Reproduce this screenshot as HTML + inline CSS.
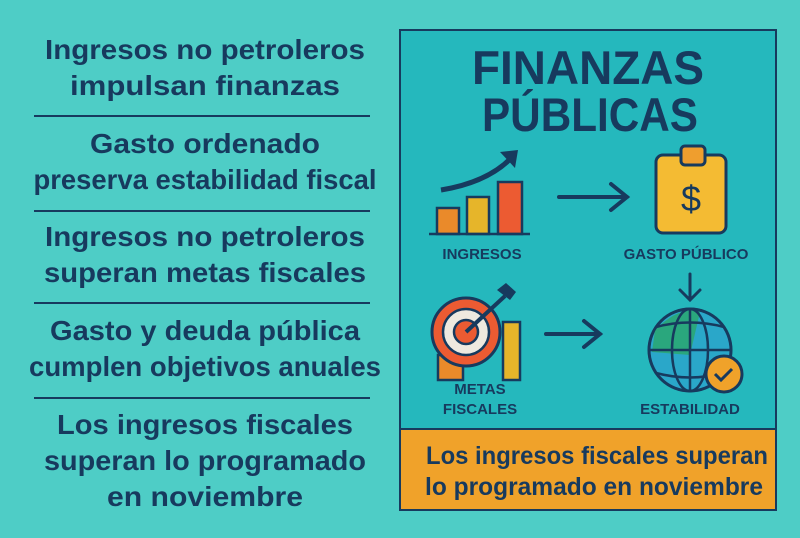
<!DOCTYPE html>
<html><head><meta charset="utf-8"><style>
body{margin:0;width:800px;height:533px;overflow:hidden;background:#4ecdc6;font-family:"Liberation Sans",sans-serif}
</style></head><body>
<svg width="800" height="533" xmlns="http://www.w3.org/2000/svg" font-family="Liberation Sans, sans-serif">
<rect width="800" height="533" fill="#4ecdc6"/>
<g fill="#173a5e" font-size="28" text-anchor="middle" font-weight="bold">
<text x="205" y="59" textLength="320" lengthAdjust="spacingAndGlyphs">Ingresos no petroleros</text>
<text x="205" y="95" textLength="270" lengthAdjust="spacingAndGlyphs">impulsan finanzas</text>
<text x="205" y="153" textLength="230" lengthAdjust="spacingAndGlyphs">Gasto ordenado</text>
<text x="205" y="189" textLength="343" lengthAdjust="spacingAndGlyphs">preserva estabilidad fiscal</text>
<text x="205" y="246" textLength="320" lengthAdjust="spacingAndGlyphs">Ingresos no petroleros</text>
<text x="205" y="282" textLength="322" lengthAdjust="spacingAndGlyphs">superan metas fiscales</text>
<text x="205" y="340" textLength="310" lengthAdjust="spacingAndGlyphs">Gasto y deuda pública</text>
<text x="205" y="376" textLength="352" lengthAdjust="spacingAndGlyphs">cumplen objetivos anuales</text>
<text x="205" y="434" textLength="296" lengthAdjust="spacingAndGlyphs">Los ingresos fiscales</text>
<text x="205" y="470" textLength="322" lengthAdjust="spacingAndGlyphs">superan lo programado</text>
<text x="205" y="506" textLength="196" lengthAdjust="spacingAndGlyphs">en noviembre</text>
</g>
<g stroke="#173a5e" stroke-width="2">
<line x1="34" y1="116" x2="370" y2="116"/><line x1="34" y1="211" x2="370" y2="211"/>
<line x1="34" y1="303" x2="370" y2="303"/><line x1="34" y1="398" x2="370" y2="398"/>
</g>
<rect x="400" y="30" width="376" height="400" fill="#25b8bd" stroke="#173a5e" stroke-width="2"/>
<rect x="400" y="429" width="376" height="81" fill="#f0a22a" stroke="#173a5e" stroke-width="2"/>
<g fill="#173a5e" font-weight="bold" text-anchor="middle">
<text x="588" y="84" font-size="47" textLength="232" lengthAdjust="spacingAndGlyphs">FINANZAS</text>
<text x="590" y="131" font-size="47" textLength="216" lengthAdjust="spacingAndGlyphs">PÚBLICAS</text>
<text x="482" y="259" font-size="15">INGRESOS</text>
<text x="686" y="259" font-size="15">GASTO PÚBLICO</text>
<text x="480" y="394" font-size="15">METAS</text>
<text x="480" y="414" font-size="15">FISCALES</text>
<text x="690" y="414" font-size="15">ESTABILIDAD</text>
</g>
<g fill="#173a5e" font-size="25" font-weight="bold">
<text x="426" y="464" textLength="342" lengthAdjust="spacingAndGlyphs">Los ingresos fiscales superan</text>
<text x="425" y="495" textLength="338" lengthAdjust="spacingAndGlyphs">lo programado en noviembre</text>
</g>
<g stroke="#173a5e" stroke-width="2.5">
<rect x="437" y="208" width="22" height="26" fill="#ea8a2a"/>
<rect x="467" y="197" width="22" height="37" fill="#e6b52a"/>
<rect x="498" y="182" width="24" height="52" fill="#ec5b32"/>
<line x1="429" y1="234" x2="530" y2="234"/>
<path d="M441 190 Q490 182 514 155" fill="none" stroke-width="5"/>
</g>
<path d="M500 152 L518 150 L515 168 Z" fill="#173a5e"/>
<g stroke="#173a5e" stroke-width="4" fill="none" stroke-linecap="round">
<path d="M559 197 L627 197 M611 184 L627 197 L611 210"/>
<path d="M546 334 L600 334 M584 321 L600 334 L584 347"/>
<path d="M690 274 L690 300 M680 290 L690 300 L700 290" stroke-width="3"/>
</g>
<rect x="656" y="155" width="70" height="78" rx="7" fill="#f4bb33" stroke="#173a5e" stroke-width="3"/>
<rect x="681" y="146" width="24" height="19" rx="4" fill="#ef9e2e" stroke="#173a5e" stroke-width="3"/>
<text x="691" y="211" font-size="36" text-anchor="middle" fill="#173a5e">$</text>
<rect x="438" y="355" width="25" height="25" fill="#ea8a2a" stroke="#173a5e" stroke-width="2.5"/>
<rect x="503" y="322" width="17" height="58" fill="#e6b52a" stroke="#173a5e" stroke-width="2.5"/>
<circle cx="466" cy="332" r="34" fill="#ec5b32" stroke="#173a5e" stroke-width="3"/>
<circle cx="466" cy="332" r="23" fill="#eee9df" stroke="#173a5e" stroke-width="2.5"/>
<circle cx="466" cy="332" r="12" fill="#ec5b32" stroke="#173a5e" stroke-width="2.5"/>
<line x1="466" y1="332" x2="505" y2="296" stroke="#173a5e" stroke-width="4"/>
<path d="M497 290 L506 283 L516 292 L510 300 Z" fill="#173a5e"/>
<circle cx="690" cy="350" r="41" fill="#2aa7c9" stroke="#173a5e" stroke-width="3"/>
<path d="M655 330 Q680 305 700 312 L690 355 L652 352 Z" fill="#2aa86a" opacity="0.8"/>
<g stroke="#173a5e" stroke-width="2.5" fill="none">
<circle cx="690" cy="350" r="41"/>
<ellipse cx="690" cy="350" rx="18" ry="41"/>
<line x1="690" y1="309" x2="690" y2="391"/>
<line x1="649" y1="350" x2="731" y2="350"/>
<path d="M656 327 Q690 318 724 327 M656 373 Q690 382 724 373"/>
</g>
<circle cx="724" cy="374" r="18" fill="#f0a22a" stroke="#173a5e" stroke-width="3"/>
<path d="M715 374 L721 380 L732 369" stroke="#173a5e" stroke-width="3" fill="none"/>
</svg>
</body></html>
